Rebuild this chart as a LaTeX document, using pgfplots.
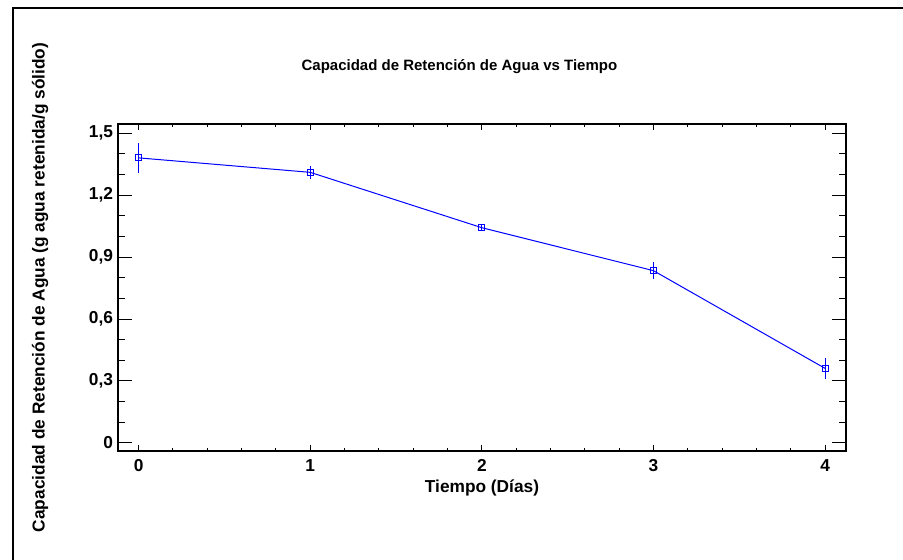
\documentclass[border=0pt]{standalone}
\usepackage{fontspec}
\setmainfont{Liberation Sans}
\usepackage{pgfplots}
\pgfplotsset{compat=1.18}

\newcommand{\lbl}{\fontsize{17.3}{20}\selectfont\bfseries}
\newcommand{\ttl}{\fontsize{15}{18}\selectfont\bfseries}

\begin{document}
\begin{tikzpicture}[x=1pt,y=1pt]
\path[use as bounding box] (0,0) rectangle (903,560);
% outer frame (only left and top edges fall inside the picture)
\draw[line width=1.3pt] (13,0) -- (13,552) -- (903,552);

% axis with x ticks, data, title and labels
\begin{axis}[
  at={(118pt,109pt)}, anchor=south west,
  scale only axis, width=728pt, height=327pt,
  xmin=-0.12, xmax=4.122, ymin=-0.039, ymax=1.544,
  xtick={0,1,2,3,4}, minor x tick num=4, ytick=\empty,
  tick align=inside, major tick length=6pt, minor tick length=3pt,
  tick style={black, line width=1pt},
  axis line style={line width=1.3pt},
  /pgf/number format/assume math mode=true,
  xticklabel style={font=\lbl, yshift=-5pt},
  title={Capacidad de Retención de Agua vs Tiempo},
  title style={font=\ttl, at={(axis description cs:0.469,1.158)}, anchor=center},
  xlabel={Tiempo (Días)},
  xlabel style={font=\lbl, at={(axis description cs:0.5,-0.114)}, anchor=center},
]
\addplot[blue, line width=1pt, mark=square, mark size=3pt,
  mark options={line width=0.9pt},
  error bars/.cd, y dir=both, y explicit, error mark=none,
  error bar style={blue, line width=1pt}]
  table[x=x, y=y, y error=e] {
x y e
0 1.380 0.072
1 1.310 0.030
2 1.042 0.012
3 0.834 0.040
4 0.361 0.050
};
\end{axis}

% same box again, carrying the y ticks
\begin{axis}[
  at={(118pt,109pt)}, anchor=south west,
  scale only axis, width=728pt, height=327pt,
  xmin=-0.12, xmax=4.122, ymin=-0.039, ymax=1.544,
  xtick=\empty, ytick={0,0.3,0.6,0.9,1.2,1.5}, minor y tick num=2,
  tick align=inside, major tick length=14pt, minor tick length=7pt,
  tick style={black, line width=1pt},
  axis line style={line width=1.3pt},
  /pgf/number format/.cd, use comma, fixed, precision=1, assume math mode=true,
  /pgfplots/.cd,
  yticklabel style={font=\lbl, xshift=-1.5pt},
  ylabel={Capacidad de Retención de Agua (g agua retenida/g sólido)},
  ylabel style={font=\lbl, at={(axis description cs:-0.107,0.5)}, anchor=center},
]
\end{axis}
\end{tikzpicture}
\end{document}
